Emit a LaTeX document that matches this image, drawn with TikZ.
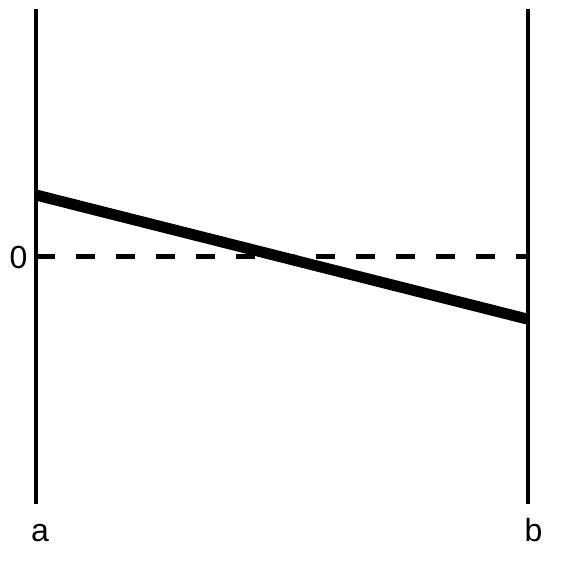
\documentclass[tikz,border=0pt]{standalone}
\usepackage{fontspec}
\setmainfont{Liberation Sans}
\begin{document}
\begin{tikzpicture}[x=1pt,y=-1pt,
  axis/.style={line width=4pt},
  zero/.style={line width=5pt,dash pattern=on 19pt off 21pt},
  graph/.style={line width=11pt},
  lab/.style={font=\fontsize{32}{36}\selectfont,inner sep=0pt}]
\useasboundingbox (0,0) rectangle (568,564);
\coordinate (atop) at (35.5,9);
\coordinate (abot) at (35.5,504);
\coordinate (btop) at (527.5,9);
\coordinate (bbot) at (527.5,504);
\coordinate (z0) at (36,257);
\coordinate (z1) at (527,257);
\coordinate (g0) at (36,195);
\coordinate (g1) at (527,319);
\draw[axis] (atop) -- (abot);
\draw[axis] (btop) -- (bbot);
\draw[zero] (z0) -- (z1);
\draw[graph] (g0) -- (g1);
\node[lab,anchor=base] (la) at (40,541) {a};
\node[lab,anchor=base] (lb) at (533.5,541) {b};
\node[lab,anchor=base] (l0) at (18.5,269) {0};
\end{tikzpicture}
\end{document}
